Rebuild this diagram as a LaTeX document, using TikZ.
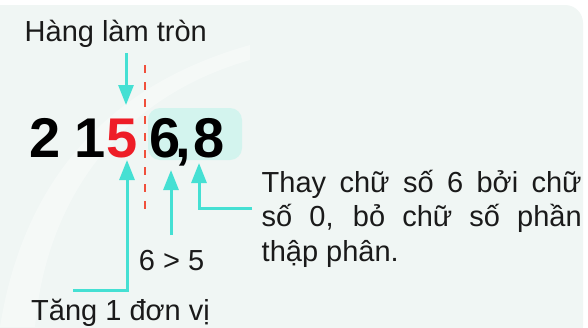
\documentclass[tikz,border=0pt]{standalone}
\usepackage{fontspec}
\setmainfont{Liberation Sans}
\usetikzlibrary{arrows.meta}
\definecolor{turq}{HTML}{45E0D3}
\definecolor{hlfill}{HTML}{D3F4EE}
\definecolor{bgfill}{HTML}{F0F6F4}
\definecolor{digred}{HTML}{EE1D27}
\definecolor{dashred}{HTML}{F0503C}
\definecolor{txt}{HTML}{1A1A1A}
\tikzset{
  lbl/.style={inner sep=0pt, text=txt, font=\fontsize{29}{34.5}\selectfont},
  dig/.style={inner sep=0pt, anchor=base, font=\fontsize{56}{60}\selectfont\bfseries, text=black},
  arr/.style={draw=turq, line width=3pt, -{Triangle[width=15pt,length=20pt]}},
  cutline/.style={draw=dashred, line width=2.4pt, dash pattern=on 8pt off 9pt},
  hlbox/.style={fill=hlfill, rounded corners=12pt, minimum width=94pt, minimum height=52pt, inner sep=0pt}
}
\begin{document}
\begin{tikzpicture}[x=1pt,y=-1pt]
\useasboundingbox (0,0) rectangle (588,327);
\fill[white] (0,0) rectangle (588,327);
\fill[bgfill, rounded corners=18pt] (-20,5) rectangle (583,345);
\fill[white, opacity=0.35] (0,327) .. controls (20,200) and (90,90) .. (250,45) -- (250,60) .. controls (110,100) and (45,210) .. (35,327) -- cycle;

% highlight
\node[hlbox] (hl) at (195,134) {};

% digits
\node[dig] (d2) at (45,157) {2};
\node[dig] (d1) at (90.5,157) {1};
\node[dig, text=digred] (d5) at (122.5,157) {5};
\node[dig] (d6) at (165,157) {6};
\node[dig] (dc) at (183.5,157) {,};
\node[dig] (d8) at (209.5,157) {8};

% labels
\node[lbl, anchor=base west] (hang) at (24.5,41.7) {Hàng làm tròn};
\node[lbl, anchor=base west] (gt) at (138.7,270.7) {6 > 5};
\node[lbl, anchor=base west] (tang) at (31,320.7) {Tăng 1 đơn vị};
\node[lbl, anchor=base west] (r1) at (261.5,192.3) {\makebox[320pt][s]{Thay chữ số 6 bởi chữ}};
\node[lbl, anchor=base west] (r2) at (261.5,226.8) {\makebox[320pt][s]{số 0, bỏ chữ số phần}};
\node[lbl, anchor=base west] (r3) at (261.5,261.3) {thập phân.};

% dashed divider
\coordinate (cutTop) at (145,65);
\coordinate (cutBot) at (145,210);
\draw[cutline] (cutTop) -- (cutBot);

% arrows
\coordinate (a1s) at (126,53);
\coordinate (a1e) at (126,105);
\draw[arr] (a1s) -- (a1e);

\coordinate (a2s) at (73,290);
\coordinate (a2e) at (127,160);
\draw[arr] (a2s) -| (a2e);

\coordinate (a3s) at (171,235);
\coordinate (a3e) at (171,170);
\draw[arr] (a3s) -- (a3e);

\coordinate (a4s) at (252,208);
\coordinate (a4e) at (199,163);
\draw[arr] (a4s) -| (a4e);
\end{tikzpicture}
\end{document}
